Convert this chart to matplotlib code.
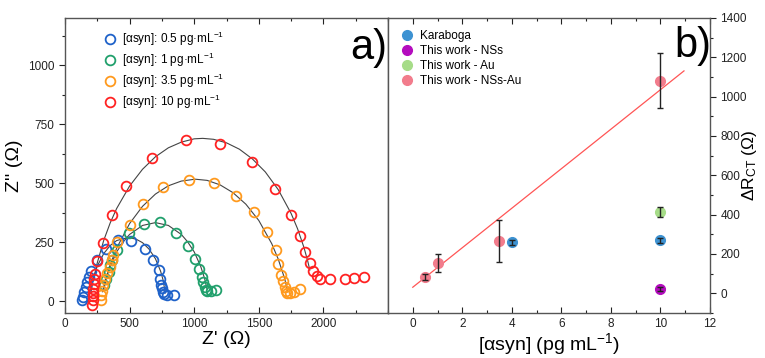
import matplotlib
matplotlib.use("Agg")
import matplotlib.pyplot as plt
from matplotlib.ticker import MultipleLocator
from matplotlib.lines import Line2D

plt.rcParams['font.family'] = ['Liberation Sans', 'DejaVu Sans']
plt.rcParams['mathtext.fontset'] = 'custom'
plt.rcParams['mathtext.rm'] = 'Liberation Sans'
plt.rcParams['mathtext.it'] = 'Liberation Sans:italic'
plt.rcParams['mathtext.default'] = 'regular'

# ---------------- Panel a data (Nyquist) ----------------
labels_a = ["[αsyn]: 0.5 pg·mL$^{-1}$", "[αsyn]: 1 pg·mL$^{-1}$",
            "[αsyn]: 3.5 pg·mL$^{-1}$", "[αsyn]: 10 pg·mL$^{-1}$"]
colors_a = ["#1f62c9", "#21a06c", "#ff9a1e", "#ff2222"]

blue_x = [132, 138, 146, 160, 172, 187, 205, 245, 319, 407, 512, 616, 678, 725, 738, 745, 752, 758, 765, 790, 846]
blue_y = [3, 18, 38, 60, 82, 103, 130, 175, 220, 261, 256, 223, 174, 131, 93, 68, 55, 39, 30, 28, 28]

green_x = [305, 315, 337, 349, 363, 401, 492, 608, 738, 862, 950, 1009, 1035, 1061, 1069, 1087, 1095, 1102, 1131, 1172]
green_y = [70, 95, 124, 153, 174, 216, 287, 329, 334, 291, 234, 178, 136, 103, 82, 61, 47, 44, 44, 47]

orange_x = [277, 280, 285, 297, 310, 325, 349, 365, 370, 401, 500, 605, 759, 960, 1153, 1325, 1460, 1560, 1630,
            1645, 1670, 1690, 1702, 1712, 1722, 1742, 1775, 1818]
orange_y = [5, 25, 45, 68, 96, 120, 145, 175, 195, 251, 322, 410, 482, 515, 499, 444, 380, 293, 216,
            158, 112, 85, 62, 45, 35, 33, 38, 50]

red_x = [212, 214, 215, 218, 220, 222, 225, 233, 246, 295, 363, 471, 673, 937, 1203, 1449, 1628, 1748, 1818, 1855,
         1898, 1922, 1950, 1976, 2051, 2168, 2240, 2318]
red_y = [-17, 5, 20, 35, 50, 75, 95, 114, 171, 245, 364, 489, 607, 681, 665, 588, 474, 367, 275, 209,
         160, 127, 106, 92, 93, 93, 100, 103]

# fitted curves
fit_blue_x = [200, 220, 250, 300, 350, 400, 488, 550, 600, 650, 700, 740, 760, 776]
fit_blue_y = [35, 97, 149, 202, 236, 257, 270, 263, 248, 221, 180, 127, 88, 35]
fit_green_x = [300, 320, 350, 400, 450, 500, 600, 700, 800, 900, 950, 1000, 1050, 1080, 1100]
fit_green_y = [50, 97, 148, 209, 251, 283, 321, 333, 321, 283, 251, 209, 148, 97, 50]
fit_orange_x = [290, 310, 350, 400, 500, 600, 700, 800, 900, 1008, 1100, 1200, 1300, 1400, 1500, 1600, 1650, 1700, 1725]
fit_orange_y = [40, 84, 155, 225, 329, 402, 454, 489, 509, 517, 512, 493, 460, 411, 342, 244, 179, 96, 40]
fit_red_x = [228, 250, 300, 350, 400, 500, 600, 700, 800, 900, 1000, 1066, 1150, 1250, 1350, 1450, 1550, 1650,
             1750, 1800, 1850, 1880, 1895]
fit_red_y = [110, 163, 258, 332, 393, 488, 559, 612, 650, 674, 688, 690, 686, 671, 644, 603, 548, 473,
             372, 307, 227, 167, 132]

# ---------------- Panel b data ----------------
labels_b = ["Karaboga", "This work - NSs", "This work - Au", "This work - NSs-Au"]
colors_b = ["#3d92d2", "#b40cbe", "#a6dc88", "#f27c8c"]
kara_x = [4, 10]
kara_y = [260, 269]
kara_err = [12, 12]
nss_x = [10]
nss_y = [22]
nss_err = [12]
au_x = [10]
au_y = [413]
au_err = [25]
nssau_x = [0.5, 1, 3.5, 10]
nssau_y = [82, 154, 265, 1082]
nssau_err = [15, 47, 107, 141]
lin_x = [0, 10.95]
lin_y = [31, 1131]

W, H = 765, 358
fig = plt.figure(figsize=(W / 100, H / 100), dpi=100)
axa = fig.add_axes([65 / W, 1 - 313 / H, (388 - 65) / W, (313 - 18) / H])
axb = fig.add_axes([388 / W, 1 - 313 / H, (710 - 388) / W, (313 - 18) / H])

# ---- panel a ----
series = [(blue_x, blue_y, fit_blue_x, fit_blue_y), (green_x, green_y, fit_green_x, fit_green_y),
          (orange_x, orange_y, fit_orange_x, fit_orange_y), (red_x, red_y, fit_red_x, fit_red_y)]
for (x, y, fx, fy) in series:
    axa.plot(fx, fy, color="#444444", lw=0.8, zorder=2)
for (x, y, fx, fy), c, lab in zip(series, colors_a, labels_a):
    axa.plot(x, y, 'o', ms=7, mfc='none', mec=c, mew=1.3, label=lab, zorder=3)

axa.set_xlim(0, 2500)
axa.set_ylim(-50, 1200)
axa.xaxis.set_minor_locator(MultipleLocator(250))
axa.yaxis.set_minor_locator(MultipleLocator(125))
axa.set_yticks([0, 250, 500, 750, 1000])
axa.set_xticks([0, 500, 1000, 1500, 2000])
axa.tick_params(axis='x', which='both', direction='in', top=True, labelsize=8.5, colors='#222222')
axa.tick_params(axis='y', which='both', direction='out', left=True, right=True, labelsize=8.5, colors='#222222')
axa.tick_params(which='major', length=4, width=0.8)
axa.tick_params(which='minor', length=2.5, width=0.8)
for s in axa.spines.values():
    s.set_color('#555555')
    s.set_linewidth(1.0)
axa.set_xlabel("Z' (Ω)", fontsize=14, labelpad=1)
axa.set_ylabel("Z'' (Ω)", fontsize=14, labelpad=4)
axa.text(0.94, 0.90, "a)", transform=axa.transAxes, fontsize=30, ha='center', va='center')
axa.legend(loc='upper left', bbox_to_anchor=(0.08, 1.0), frameon=False, fontsize=8.5,
           handletextpad=0.4, labelspacing=0.25, borderpad=0.5, handlelength=1.2)

# ---- panel b ----
axb.plot(lin_x, lin_y, color="#ff5555", lw=0.9, zorder=2)
groups = [(kara_x, kara_y, kara_err), (nss_x, nss_y, nss_err), (au_x, au_y, au_err), (nssau_x, nssau_y, nssau_err)]
for (x, y, e), c in zip(groups, colors_b):
    axb.plot(x, y, 'o', ms=7, color=c, zorder=3)
    axb.errorbar(x, y, yerr=e, fmt='none', ecolor='#222222', elinewidth=1.0,
                 capsize=2, capthick=1.0, zorder=4)

axb.set_xlim(-1, 12)
axb.set_ylim(-100, 1400)
axb.xaxis.set_minor_locator(MultipleLocator(1))
axb.yaxis.set_minor_locator(MultipleLocator(100))
axb.set_xticks([0, 2, 4, 6, 8, 10, 12])
axb.set_yticks([0, 200, 400, 600, 800, 1000, 1200, 1400])
axb.yaxis.tick_right()
axb.yaxis.set_label_position('right')
axb.tick_params(axis='x', which='both', direction='in', top=True, labelsize=8.5, colors='#222222')
axb.tick_params(axis='y', which='both', direction='out', right=True, left=False, labelsize=8.5, colors='#222222')
axb.tick_params(which='major', length=4, width=0.8)
axb.tick_params(which='minor', length=2.5, width=0.8)
for s in axb.spines.values():
    s.set_color('#555555')
    s.set_linewidth(1.0)
axb.set_xlabel("[αsyn] (pg mL$^{-1}$)", fontsize=14, labelpad=1)
axb.set_ylabel("ΔR$_{CT}$ (Ω)", fontsize=12.5, rotation=90, va='center', ha='center')
axb.yaxis.set_label_coords(1.122, 0.5)
axb.text(0.947, 0.905, "b)", transform=axb.transAxes, fontsize=30, ha='center', va='center')
proxies = [Line2D([], [], marker='o', ls='none', ms=7, color=c) for c in colors_b]
axb.legend(proxies, labels_b, loc='upper left', bbox_to_anchor=(0.0, 1.0), frameon=False, fontsize=8.5,
           handletextpad=0.5, labelspacing=0.25, borderpad=0.5, handlelength=1.2)

fig.savefig("out.png", dpi=100)
